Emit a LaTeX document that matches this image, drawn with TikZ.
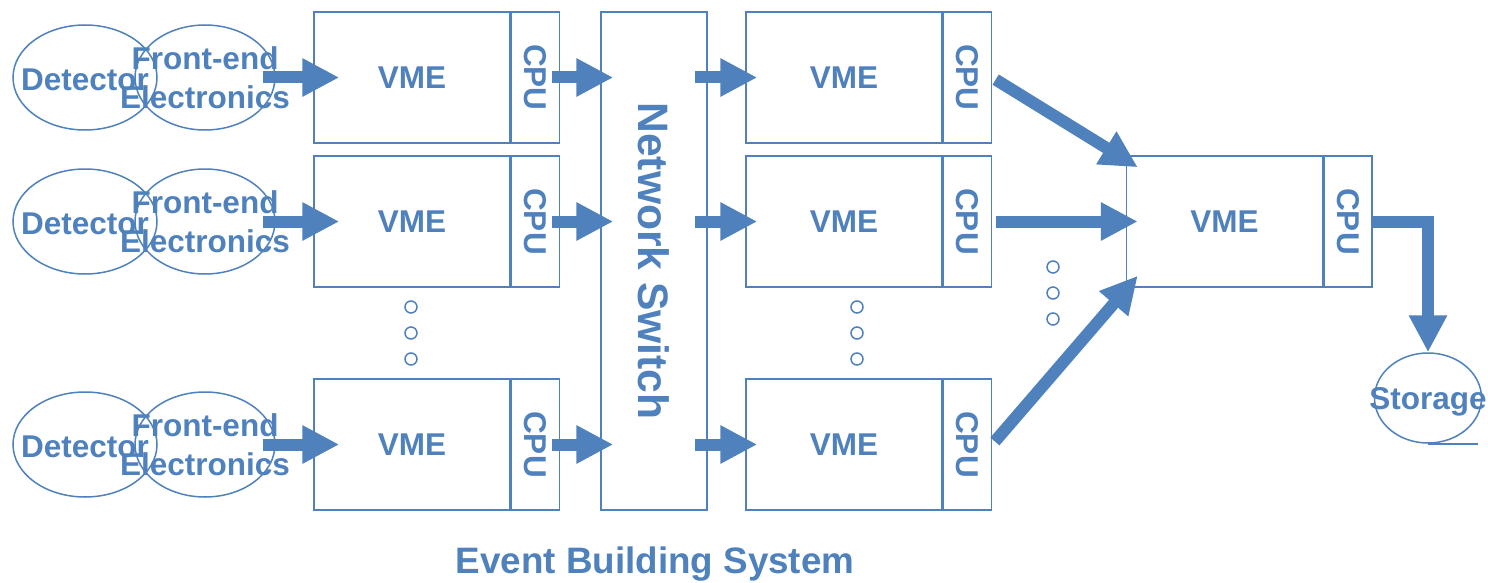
\documentclass[tikz,border=0pt]{standalone}
\usepackage{fontspec}
\setmainfont{Liberation Sans}
\usetikzlibrary{positioning,arrows.meta,shapes.geometric,calc}
\definecolor{ebblue}{HTML}{4F81BD}

\begin{document}
\begin{tikzpicture}[
  x=0.5pt, y=-0.5pt,
  every node/.style={font=\fontsize{15.75pt}{19.5pt}\selectfont\bfseries, text=ebblue},
  ell/.style={draw=ebblue, line width=0.75pt, ellipse, inner sep=0pt, minimum height=52.5pt},
  vmebox/.style={draw=ebblue, line width=0.75pt, rectangle, minimum width=98pt, minimum height=65.5pt, inner sep=0pt},
  cpubox/.style={draw=ebblue, line width=0.75pt, rectangle, minimum width=24pt, minimum height=65.5pt, inner sep=0pt, anchor=west},
  flow/.style={draw=ebblue, line width=6pt, -{Triangle[length=18.5pt,width=18pt]}, shorten >=-6.5pt},
  dotmark/.style={draw=ebblue, line width=0.75pt}
]
\useasboundingbox (0,0) rectangle (1488,583);

% detectors and front-end electronics
\node[ell, minimum width=72pt, label={[yshift=-1pt]center:Detector}] (det1) at (85,77.5) {};
\node[ell, minimum width=70pt, label={[align=center]center:{Front-end\\Electronics}}] (fee1) at (205,77.5) {};
\node[ell, minimum width=72pt, label={[yshift=-1pt]center:Detector}] (det2) at (85,221.5) {};
\node[ell, minimum width=70pt, label={[align=center]center:{Front-end\\Electronics}}] (fee2) at (205,221.5) {};
\node[ell, minimum width=72pt, label={[yshift=-1pt]center:Detector}] (det3) at (85,444.5) {};
\node[ell, minimum width=70pt, label={[align=center]center:{Front-end\\Electronics}}] (fee3) at (205,444.5) {};

% readout crates
\node[vmebox] (rvme1) at (412,77.5) {VME};
\node[cpubox] (rcpu1) at (rvme1.east) {\rotatebox{-90}{CPU}};
\node[vmebox] (rvme2) at (412,221.5) {VME};
\node[cpubox] (rcpu2) at (rvme2.east) {\rotatebox{-90}{CPU}};
\node[vmebox] (rvme3) at (412,444.5) {VME};
\node[cpubox] (rcpu3) at (rvme3.east) {\rotatebox{-90}{CPU}};

% switch
\node[draw=ebblue, line width=0.75pt, minimum width=53pt, minimum height=249pt, inner sep=0pt,
      font=\fontsize{21.3pt}{25pt}\selectfont\bfseries] (sw) at (654,261) {\rotatebox{-90}{Network Switch}};

% builder crates
\node[vmebox] (bvme1) at (844,77.5) {VME};
\node[cpubox] (bcpu1) at (bvme1.east) {\rotatebox{-90}{CPU}};
\node[vmebox] (bvme2) at (844,221.5) {VME};
\node[cpubox] (bcpu2) at (bvme2.east) {\rotatebox{-90}{CPU}};
\node[vmebox] (bvme3) at (844,444.5) {VME};
\node[cpubox] (bcpu3) at (bvme3.east) {\rotatebox{-90}{CPU}};

% final crate and storage
\node[vmebox] (evme) at (1224.5,221.5) {VME};
\node[cpubox] (ecpu) at (evme.east) {\rotatebox{-90}{CPU}};
\node[ell, minimum width=53.5pt, minimum height=45pt, label={[yshift=-2pt]center:Storage}] (stor) at (1428,398) {};
\draw[draw=ebblue, line width=0.75pt] (stor.south) -- ++(50,0);

\node[font=\fontsize{18.4pt}{22pt}\selectfont\bfseries] (title) at (655,564) {Event Building System};

% dots
\draw[dotmark] (411,307) circle[radius=3pt] (411,333) circle[radius=3pt] (411,359) circle[radius=3pt];
\draw[dotmark] (857,307) circle[radius=3pt] (857,333) circle[radius=3pt] (857,359) circle[radius=3pt];
\draw[dotmark] (1053,267) circle[radius=3pt] (1053,293) circle[radius=3pt] (1053,319) circle[radius=3pt];

% arrows
\draw[flow, shorten <=-6.5pt, shorten >=-13pt] (fee1.east) -- (rvme1.west);
\draw[flow, shorten <=-6.5pt, shorten >=-13pt] (fee2.east) -- (rvme2.west);
\draw[flow, shorten <=-6.5pt, shorten >=-13pt] (fee3.east) -- (rvme3.west);
\draw[flow, shorten <=-4pt] (rcpu1.east) -- (rcpu1.east -| sw.west);
\draw[flow, shorten <=-4pt] (rcpu2.east) -- (rcpu2.east -| sw.west);
\draw[flow, shorten <=-4pt] (rcpu3.east) -- (rcpu3.east -| sw.west);
\draw[flow, shorten <=-6.5pt, shorten >=-6pt] (sw.east |- bvme1.west) -- (bvme1.west);
\draw[flow, shorten <=-6.5pt, shorten >=-6pt] (sw.east |- bvme2.west) -- (bvme2.west);
\draw[flow, shorten <=-6.5pt, shorten >=-6pt] (sw.east |- bvme3.west) -- (bvme3.west);
\draw[flow, shorten >=0pt, shorten <=2pt] (bcpu1.east) -- ([shift={(12,12)}]evme.north west);
\draw[flow, shorten <=2pt, shorten >=-6pt] (bcpu2.east) -- (bcpu2.east -| evme.west);
\draw[flow, shorten >=0pt, shorten <=2pt] (bcpu3.east) -- ([shift={(12,-12)}]evme.south west);
\draw[flow, shorten >=0pt, line join=miter] (ecpu.east) -| (stor.north);
\end{tikzpicture}
\end{document}
